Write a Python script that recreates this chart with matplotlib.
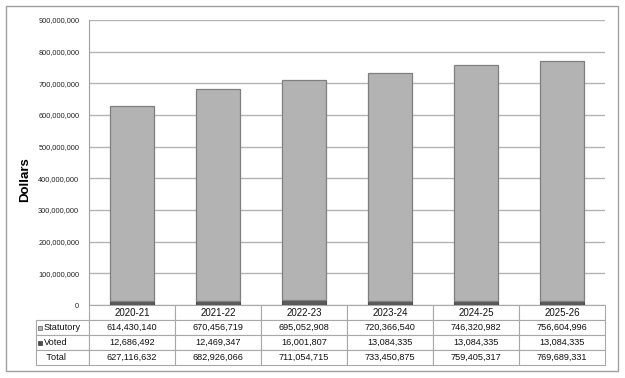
import matplotlib.pyplot as plt
import matplotlib.ticker as mticker
from matplotlib.patches import Rectangle
import numpy as np

years = ['2020-21', '2021-22', '2022-23', '2023-24', '2024-25', '2025-26']
statutory = [614430140, 670456719, 695052908, 720366540, 746320982, 756604996]
voted = [12686492, 12469347, 16001807, 13084335, 13084335, 13084335]
totals = [627116632, 682926066, 711054715, 733450875, 759405317, 769689331]
row_labels = ['Statutory', 'Voted', 'Total']

plt.rcParams['font.family'] = ['Liberation Sans', 'DejaVu Sans']

W, H = 625, 378
fig = plt.figure(figsize=(6.25, 3.78), dpi=100)
ax = fig.add_axes([89 / W, 1 - 305 / H, 516 / W, 285 / H])

x = np.arange(len(years))
ax.bar(x, voted, width=0.51, color='#5a5a5a', edgecolor='#4a4a4a', linewidth=0.8, zorder=3)
ax.bar(x, statutory, width=0.51, bottom=voted, color='#b3b3b3', edgecolor='#7f7f7f', linewidth=0.9, zorder=3)

ax.set_xlim(-0.5, len(years) - 0.5)
ax.set_ylim(0, 900000000)
ax.yaxis.set_major_locator(mticker.MultipleLocator(100000000))
ax.yaxis.set_major_formatter(mticker.FuncFormatter(lambda v, p: f'{v:,.0f}'))
ax.yaxis.grid(True, color='#b4b4b4', linewidth=1, zorder=0)
ax.set_xticks([])
ax.tick_params(axis='y', length=0, pad=7, labelsize=5.3, labelcolor='#222222')
for side in ['top', 'right', 'bottom']:
    ax.spines[side].set_visible(False)
ax.spines['left'].set_color('#a0a0a0')

# data table under the chart
cell_text = [[''] + years]
for lab, vals in zip(row_labels, [statutory, voted, totals]):
    cell_text.append([lab] + [f'{v:,}' for v in vals])
col_w = [53 / 569] + [86 / 569] * len(years)
tab = ax.table(cellText=cell_text, colWidths=col_w, cellLoc='center',
               bbox=[-53 / 516, -60 / 285, 569 / 516, 60 / 285])
tab.auto_set_font_size(False)
for (r, c), cell in tab.get_celld().items():
    cell.set_edgecolor('#a8a8a8')
    cell.set_linewidth(0.8)
    cell.get_text().set_fontsize(7 if r == 0 else 6.6)
    cell.get_text().set_color('#111111')
    if c == 0:
        cell.get_text().set_ha('left')
        cell.PAD = 0.15
        if r == 3:
            cell.get_text().set_text(' Total')
    if r == 0 and c == 0:
        cell.set_linewidth(0)

# legend keys in the table
fig.patches.append(Rectangle((38 / W, 1 - 329.5 / H), 3.5 / W, 3.5 / H, transform=fig.transFigure,
                             facecolor='#b3b3b3', edgecolor='#707070', linewidth=0.6))
fig.patches.append(Rectangle((38 / W, 1 - 344.5 / H), 3.5 / W, 3.5 / H, transform=fig.transFigure,
                             facecolor='#4a4a4a', edgecolor='#4a4a4a', linewidth=0.6))

fig.text(25 / W, 1 - 180 / H, 'Dollars', rotation=90, ha='center', va='center',
         fontsize=9.5, fontweight='bold')

# outer frame
fig.patches.append(Rectangle((6 / W, 1 - 371 / H), 612 / W, 365 / H, transform=fig.transFigure,
                             fill=False, edgecolor='#a0a0a0', linewidth=1))

fig.savefig('out.png', dpi=100)
